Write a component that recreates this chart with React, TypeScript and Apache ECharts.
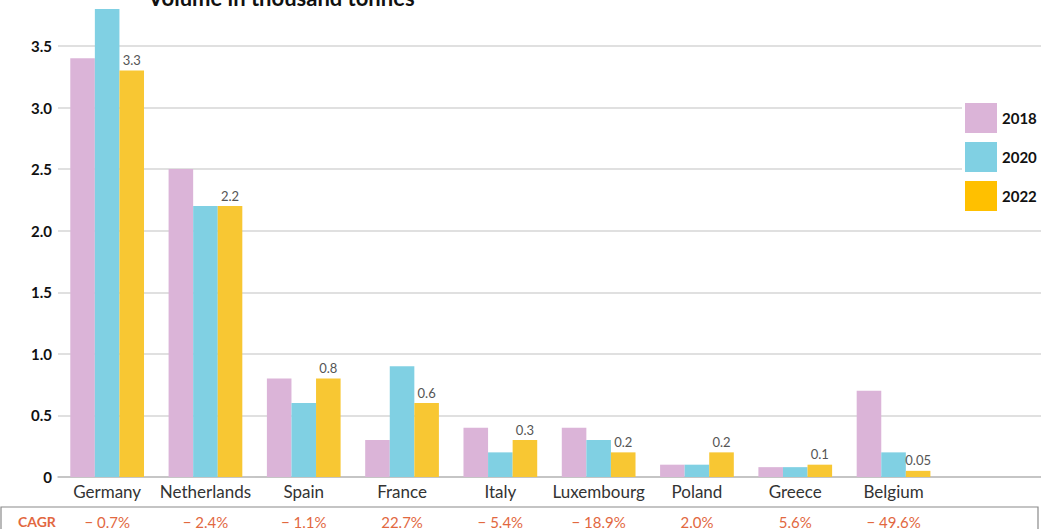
import React, { useEffect, useRef } from "react";
import * as echarts from "echarts";

const categories = ["Germany", "Netherlands", "Spain", "France", "Italy", "Luxembourg", "Poland", "Greece", "Belgium", ""];
const v2018 = [3.4, 2.5, 0.8, 0.3, 0.4, 0.4, 0.1, 0.08, 0.7, null];
const v2020 = [3.8, 2.2, 0.6, 0.9, 0.2, 0.3, 0.1, 0.08, 0.2, null];
const v2022 = [3.3, 2.2, 0.8, 0.6, 0.3, 0.2, 0.2, 0.1, 0.05, null];
const cagr = ["\u2212 0.7%", "\u2212 2.4%", "\u2212 1.1%", "22.7%", "\u2212 5.4%", "\u2212 18.9%", "2.0%", "5.6%", "\u2212 49.6%", ""];
const seriesNames = ["2018", "2020", "2022"];
const barColors = ["#dbb4d8", "#80d0e3", "#f8c733"];
const legendColors = ["#dbb4d8", "#80d0e3", "#ffc000"];

const FONT = "Lato, 'Open Sans', sans-serif";

export default function App() {
  const ref = useRef<HTMLDivElement>(null);
  useEffect(() => {
    if (!ref.current) return;
    const chart = echarts.init(ref.current, null, { renderer: "svg" });
    const seriesData = [v2018, v2020, v2022];
    chart.setOption({
      animation: false,
      textStyle: { fontFamily: FONT },
      grid: { left: 58, right: 0, top: 9, bottom: 52, containLabel: false },
      legend: {
        orient: "vertical",
        left: 962,
        top: 100,
        icon: "rect",
        itemWidth: 32,
        itemHeight: 30,
        itemGap: 9,
        padding: [3, 8, 3, 3],
        backgroundColor: "#ffffff",
        textStyle: { fontFamily: FONT, fontSize: 15, fontWeight: "bold", color: "#111" },
        data: seriesNames.map((n, i) => ({ name: n, itemStyle: { color: legendColors[i] } })),
      },
      xAxis: [
        {
          type: "category",
          data: categories,
          axisLine: { lineStyle: { color: "#bdbdbd", width: 1.5 } },
          axisTick: { show: false },
          axisLabel: { color: "#333", fontSize: 17, fontFamily: FONT, margin: 6, interval: 0 },
        },
        {
          type: "category",
          data: categories,
          position: "bottom",
          offset: 30,
          axisLine: { show: false },
          axisTick: { show: false },
          axisLabel: {
            interval: 0,
            margin: 7,
            color: "#e2683f",
            fontSize: 15,
            fontFamily: FONT,
            formatter: (_v: string, idx: number) => cagr[idx],
          },
        },
      ],
      yAxis: {
        type: "value",
        min: 0,
        max: 3.8,
        interval: 0.5,
        axisLine: { show: false },
        axisTick: { show: false },
        axisLabel: {
          color: "#111",
          fontWeight: "bold",
          fontSize: 15,
          fontFamily: FONT,
          margin: 6,
          showMaxLabel: false,
          formatter: (v: number) => (v === 0 ? "0" : v.toFixed(1)),
        },
        splitLine: { showMaxLine: false, lineStyle: { color: "#d6d6d6", width: 1.5 } },
      },
      series: seriesNames.map((n, i) => ({
        name: n,
        type: "bar",
        data: seriesData[i],
        barGap: "0%",
        barCategoryGap: "25%",
        itemStyle: { color: barColors[i] },
        label:
          i === 2
            ? { show: true, position: "top", color: "#555", fontSize: 13, fontFamily: FONT, distance: 4 }
            : { show: false },
      })),
      graphic: [
        {
          type: "text",
          left: 148,
          top: -14,
          style: { text: "Volume in thousand tonnes", font: "bold 22px " + FONT, fill: "#111" },
        },
        {
          type: "rect",
          shape: { x: 1, y: 507, width: 1037, height: 40 },
          style: { fill: "none", stroke: "#8a8a8a", lineWidth: 1.2 },
          z: 10,
        },
        {
          type: "text",
          x: 18,
          y: 521,
          style: { text: "CAGR", font: "bold 14px " + FONT, fill: "#e2683f", textVerticalAlign: "middle" },
          z: 10,
        },
      ],
    });
    return () => chart.dispose();
  }, []);
  return <div ref={ref} style={{ position: "absolute", left: 0, top: 0, width: 1041, height: 529 }} />;
}
